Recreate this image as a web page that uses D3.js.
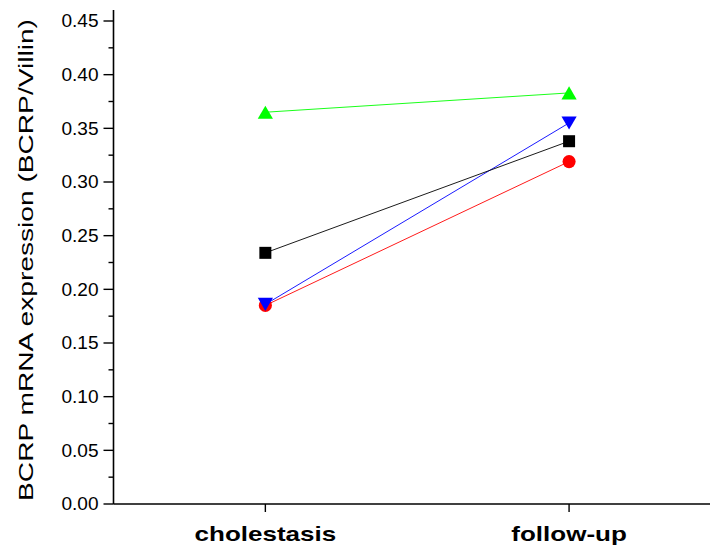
<!DOCTYPE html>
<html>
<head>
<meta charset="utf-8">
<script src="https://cdn.jsdelivr.net/npm/d3@7"></script>
<style>
  html, body { margin: 0; padding: 0; background: #fff; }
  svg { display: block; font-family: "Liberation Sans", Arial, sans-serif; }
</style>
</head>
<body>
<svg id="chart" width="710" height="548"></svg>
<script>
// Time points on the x axis
const categories = ["cholestasis", "follow-up"];

// BCRP/Villin expression per patient at each time point
const seriesNames = ["red", "blue", "black", "green"];
const seriesColors = ["#ff0000", "#0000ff", "#000000", "#00ff00"];
const seriesSymbols = ["circle", "triangleDown", "square", "triangleUp"];
const redValues = [0.185, 0.319];
const blueValues = [0.186, 0.355];
const blackValues = [0.234, 0.338];
const greenValues = [0.365, 0.383];

// Y axis ticks
const yMajorTicks = [0.00, 0.05, 0.10, 0.15, 0.20, 0.25, 0.30, 0.35, 0.40, 0.45];
const yMinorTicks = [0.025, 0.075, 0.125, 0.175, 0.225, 0.275, 0.325, 0.375, 0.425];

const series = [redValues, blueValues, blackValues, greenValues].map((vals, i) => ({
  name: seriesNames[i], color: seriesColors[i], symbol: seriesSymbols[i], values: vals
}));

const svg = d3.select("#chart");
const plotLeft = 113.5, plotRight = 710, plotTop = 10, plotBottom = 504;
const textStretch = 1.3; // wide lettering used for the axis texts

const x = d3.scaleLinear().domain([-0.5, 1.464]).range([plotLeft, plotRight]);
const y = d3.scaleLinear().domain([0, 0.45]).range([plotBottom, 21]);

// Y axis line and ticks
const yAxis = svg.append("g");
yAxis.append("line")
  .attr("x1", plotLeft).attr("x2", plotLeft).attr("y1", plotTop).attr("y2", plotBottom)
  .attr("stroke", "#000").attr("stroke-width", 1.6);
yAxis.selectAll(".major").data(yMajorTicks).join("line")
  .attr("class", "major")
  .attr("x1", plotLeft - 10).attr("x2", plotLeft)
  .attr("y1", d => y(d)).attr("y2", d => y(d))
  .attr("stroke", "#000").attr("stroke-width", 1.4);
yAxis.selectAll(".minor").data(yMinorTicks).join("line")
  .attr("class", "minor")
  .attr("x1", plotLeft - 5).attr("x2", plotLeft)
  .attr("y1", d => y(d)).attr("y2", d => y(d))
  .attr("stroke", "#000").attr("stroke-width", 1.4);
yAxis.selectAll("text").data(yMajorTicks).join("text")
  .attr("transform", d => `translate(${plotLeft - 15},${y(d)}) scale(1.06,1)`)
  .attr("dy", "0.36em")
  .attr("text-anchor", "end")
  .attr("font-size", 18)
  .attr("fill", "#000")
  .text(d => d3.format(".2f")(d));

// X axis line, ticks and category labels
const xAxis = svg.append("g");
xAxis.append("line")
  .attr("x1", plotLeft).attr("x2", plotRight).attr("y1", plotBottom).attr("y2", plotBottom)
  .attr("stroke", "#000").attr("stroke-width", 1.6);
xAxis.selectAll(".tick").data(categories).join("line")
  .attr("class", "tick")
  .attr("x1", (d, i) => x(i)).attr("x2", (d, i) => x(i))
  .attr("y1", plotBottom).attr("y2", plotBottom + 8)
  .attr("stroke", "#000").attr("stroke-width", 1.4);
xAxis.selectAll("text").data(categories).join("text")
  .attr("transform", (d, i) => `translate(${x(i)},541) scale(${textStretch},1)`)
  .attr("text-anchor", "middle")
  .attr("font-size", 20)
  .attr("font-weight", "bold")
  .attr("fill", "#000")
  .text(d => d);

// Y axis title
svg.append("text")
  .attr("transform", `translate(33,260) rotate(-90) scale(${textStretch + 0.04},1)`)
  .attr("text-anchor", "middle")
  .attr("font-size", 21)
  .attr("fill", "#000")
  .text("BCRP mRNA expression (BCRP/Villin)");

// Connecting lines
const line = d3.line().x((d, i) => x(i)).y(d => y(d));
svg.append("g").selectAll("path").data(series).join("path")
  .attr("d", d => line(d.values))
  .attr("fill", "none")
  .attr("stroke", d => d.color)
  .attr("stroke-width", 0.9);

// Markers
const triSize = 100;
function symbolPath(kind) {
  if (kind === "circle") return d3.symbol(d3.symbolCircle, 135)();
  if (kind === "square") return d3.symbol(d3.symbolSquare, 144)();
  return d3.symbol(d3.symbolTriangle, triSize)();
}
// shift triangles so their bounding box (not centroid) sits on the value
const triY = Math.sqrt(triSize / (Math.sqrt(3) * 3));
const markerGroups = svg.append("g").selectAll("g").data(series).join("g");
markerGroups.selectAll("path").data(d => d.values.map(v => ({ v, s: d }))).join("path")
  .attr("d", d => symbolPath(d.s.symbol))
  .attr("transform", (d, i) => {
    const cx = x(i), cy = y(d.v);
    if (d.s.symbol === "triangleUp") return `translate(${cx},${cy + triY / 2})`;
    if (d.s.symbol === "triangleDown") return `translate(${cx},${cy - triY / 2}) rotate(180)`;
    return `translate(${cx},${cy})`;
  })
  .attr("fill", d => d.s.color);
</script>
</body>
</html>
